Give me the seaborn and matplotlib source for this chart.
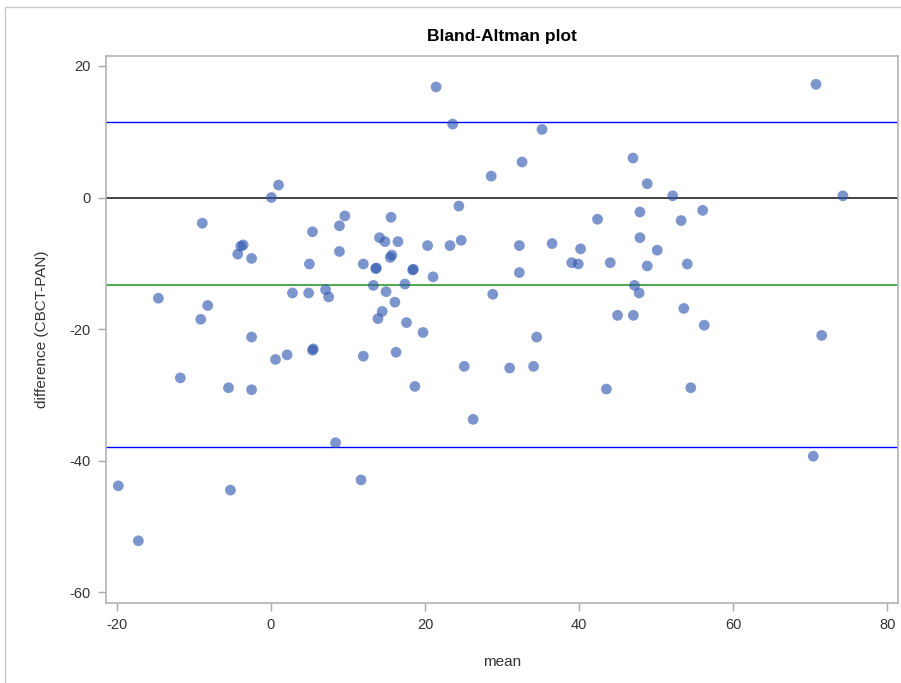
import matplotlib
matplotlib.use("Agg")
import matplotlib.pyplot as plt
import seaborn as sns
import pandas as pd
from matplotlib.patches import Rectangle

mean_vals = [-19.8, -17.2, -14.6, -11.75, -9.1, -8.9, -8.2, -5.5, -5.25, -4.3,
             -3.9, -3.6, -2.5, -2.5, -2.5, 0.07, 1.0, 0.6, 2.1, 2.8,
             4.9, 5.0, 5.4, 5.4, 5.5, 7.1, 7.5, 8.4, 8.9, 8.9,
             9.6, 11.7, 12.0, 12.0, 13.3, 13.6, 13.7, 13.9, 14.1, 14.45,
             14.8, 14.95, 15.5, 15.7, 15.6, 16.1, 16.25, 16.5, 17.4, 17.6,
             18.4, 18.5, 18.7, 19.75, 20.35, 21.05, 21.45, 23.25, 23.6, 24.4,
             24.7, 25.1, 26.25, 28.6, 28.8, 31.0, 32.25, 32.25, 32.6, 34.1,
             34.5, 35.2, 36.5, 39.05, 39.9, 40.2, 42.4, 43.55, 44.05, 45.0,
             47.0, 47.05, 47.2, 47.8, 47.9, 47.9, 48.85, 48.85, 50.15, 52.15,
             53.25, 53.6, 54.05, 54.5, 56.05, 56.25, 70.4, 70.75, 71.5, 74.25]
diff_vals = [-43.8, -52.15, -15.3, -27.4, -18.5, -3.9, -16.4, -28.9, -44.45, -8.6,
             -7.4, -7.2, -9.25, -21.2, -29.2, 0.0, 1.9, -24.6, -23.9, -14.5,
             -14.5, -10.1, -5.2, -23.2, -23.0, -14.0, -15.1, -37.25, -4.3, -8.2,
             -2.8, -42.9, -10.1, -24.1, -13.35, -10.8, -10.7, -18.4, -6.1, -17.3,
             -6.7, -14.3, -9.1, -8.75, -3.0, -15.9, -23.5, -6.7, -13.15, -19.0,
             -11.0, -10.9, -28.7, -20.5, -7.3, -12.05, 16.8, -7.3, 11.15, -1.3,
             -6.5, -25.65, -33.7, 3.25, -14.7, -25.9, -7.3, -11.4, 5.4, -25.65,
             -21.2, 10.35, -7.0, -9.9, -10.1, -7.8, -3.3, -29.1, -9.9, -17.9,
             6.0, -17.9, -13.35, -14.5, -2.2, -6.1, -10.4, 2.1, -8.0, 0.26,
             -3.5, -16.85, -10.1, -28.9, -1.95, -19.4, -39.3, 17.2, -20.95, 0.26]

mean_difference = -13.36
upper_limit = 11.45
lower_limit = -37.9
zero_line = 0.0

x_ticks = [-20, 0, 20, 40, 60, 80]
y_ticks = [20, 0, -20, -40, -60]

df = pd.DataFrame({"mean": mean_vals, "difference": diff_vals})

sns.set_style("white")
plt.rcParams['font.family'] = ['Liberation Sans', 'DejaVu Sans']
plt.rcParams['axes.unicode_minus'] = False

fig = plt.figure(figsize=(9.01, 6.83), dpi=100)
ax = fig.add_axes([106/901, 1 - 603/683, (898 - 106)/901, (603 - 56)/683])

# outer light frame
fig.patches.append(Rectangle((5/901, -0.01), 1.0, 1 - 7/683 + 0.01,
                             transform=fig.transFigure, fill=False,
                             edgecolor='#c8c8c8', linewidth=1.0))

ax.axhline(upper_limit, color='#0000ff', linewidth=1.0, zorder=1)
ax.axhline(lower_limit, color='#0000ff', linewidth=1.0, zorder=1)
ax.axhline(zero_line, color='#222222', linewidth=1.2, zorder=1)
ax.axhline(mean_difference, color='#2e9b2e', linewidth=1.2, zorder=1)

sns.scatterplot(data=df, x="mean", y="difference", ax=ax, s=60,
                color='#2d55af', alpha=0.62, edgecolor='none', zorder=3)

ax.set_xlim(-21.4, 81.4)
ax.set_ylim(-61.6, 21.5)
ax.set_xticks(x_ticks)
ax.set_yticks(y_ticks)
ax.tick_params(axis='both', direction='out', length=6, width=1,
               color='#a8a8a8', labelsize=10.5, labelcolor='#333333',
               bottom=True, left=True, pad=5)
for s in ax.spines.values():
    s.set_color('#b4b4b4')
    s.set_linewidth(1.2)

ax.set_xlabel("mean", fontsize=11, color='#333333', labelpad=16)
ax.set_ylabel("difference (CBCT-PAN)", fontsize=11, color='#333333', labelpad=15)
ax.set_title("Bland-Altman plot", fontsize=12.5, fontweight='bold', color='#000000', pad=11)

fig.savefig("out.png", dpi=100)
